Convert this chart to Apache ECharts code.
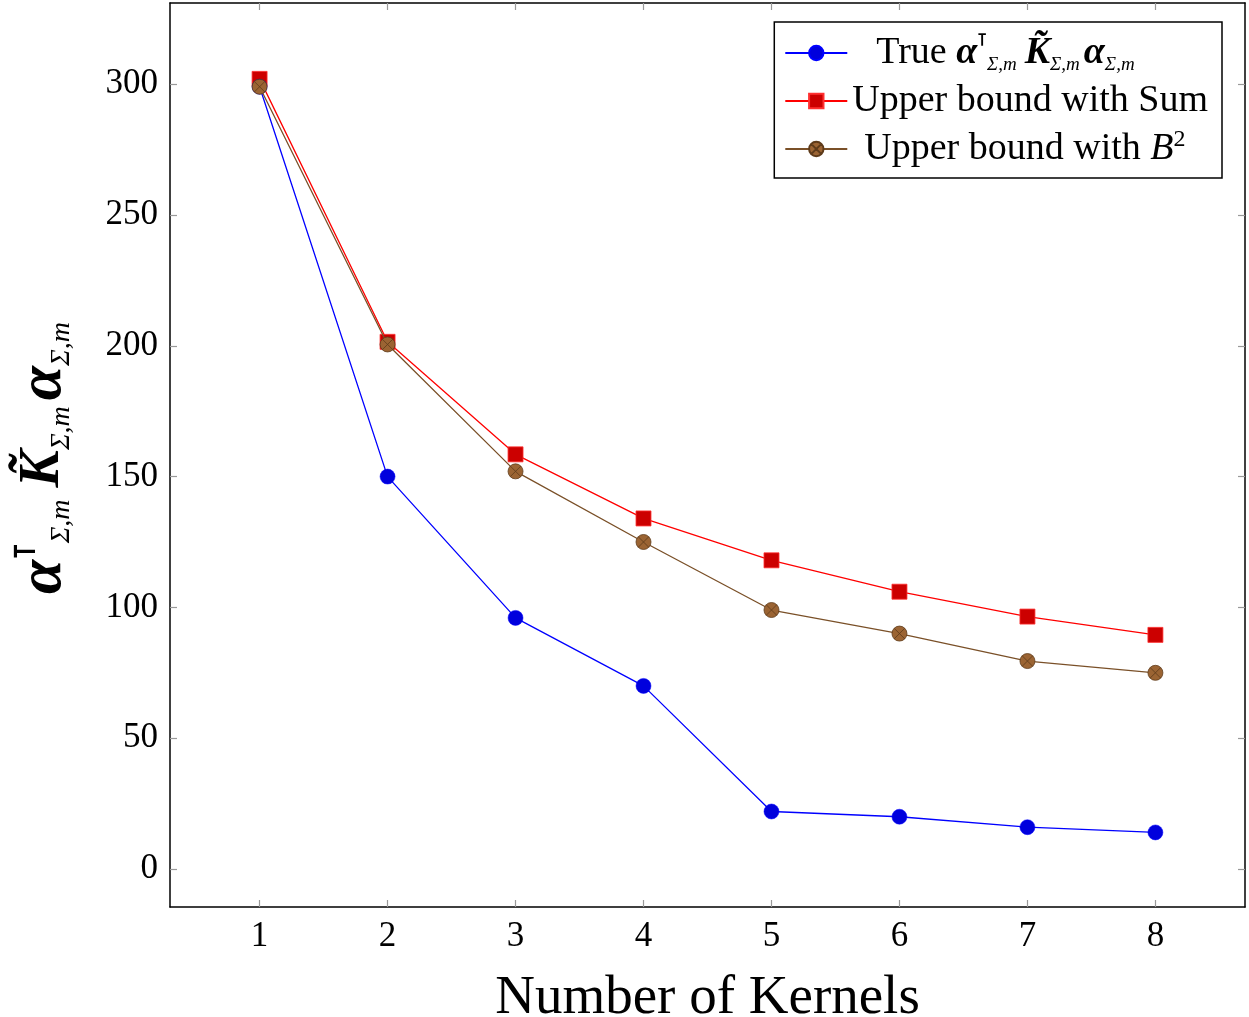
<!DOCTYPE html>
<html>
<head>
<meta charset="utf-8">
<script src="https://cdn.jsdelivr.net/npm/echarts@6/dist/echarts.min.js"></script>
<style>html,body{margin:0;padding:0;background:#fff;}#c{width:1249px;height:1017px;}</style>
</head>
<body>
<div id="c"></div>
<script>
const kernels = [1, 2, 3, 4, 5, 6, 7, 8];
const trueVals = [299, 150, 96, 70, 22, 20, 16, 14];
const sumBound = [302, 201.5, 158.5, 134, 118, 106, 96.5, 89.5];
const b2Bound = [299, 200.5, 152, 125, 99, 90, 79.5, 75];
const yTicks = [0, 50, 100, 150, 200, 250, 300];

const FONT = '"Liberation Serif", "DejaVu Serif", serif';
const otimes = 'path://M50,2 A48,48 0 1,1 49.99,2 Z M16,16 L84,84 M84,16 L16,84';

function pairs(v) { return kernels.map((k, i) => [k, v[i]]); }

const chart = echarts.init(document.getElementById('c'));
const tickStyle = { show: true, inside: true, length: 7, lineStyle: { color: '#999', width: 1.2 } };
const axLine = { show: true, onZero: false, lineStyle: { color: '#000', width: 1.5 } };

chart.setOption({
  animation: false,
  backgroundColor: '#fff',
  grid: { left: 170, right: 4, top: 3, bottom: 110, containLabel: false, outerBoundsMode: 'none' },
  xAxis: [{
    type: 'value', min: 0.3, max: 8.7,
    axisLine: axLine,
    axisTick: Object.assign({}, tickStyle, { customValues: kernels }),
    axisLabel: { customValues: kernels, fontFamily: FONT, fontSize: 35, color: '#000', margin: 12 },
    splitLine: { show: false },
    name: 'Number of Kernels', nameLocation: 'middle', nameGap: 64,
    nameTextStyle: { fontFamily: FONT, fontSize: 55, color: '#000' }
  }, {
    type: 'value', min: 0.3, max: 8.7, position: 'top',
    axisLine: axLine,
    axisTick: Object.assign({}, tickStyle, { customValues: kernels }),
    axisLabel: { show: false }, splitLine: { show: false }
  }],
  yAxis: [{
    type: 'value', min: -14.5, max: 331,
    axisLine: axLine,
    axisTick: Object.assign({}, tickStyle, { customValues: yTicks }),
    axisLabel: { customValues: yTicks, fontFamily: FONT, fontSize: 35, color: '#000', margin: 12 },
    splitLine: { show: false },
    name: '{a|α}{sup|⊺}{sub|Σ,m}{k|K̃}{sub|Σ,m}{a|α}{sub|Σ,m}',
    nameLocation: 'middle', nameGap: 94, nameRotate: 90,
    nameTextStyle: {
      color: '#000',
      rich: {
        a: { fontFamily: FONT, fontSize: 62, fontWeight: 'bold', fontStyle: 'italic', color: '#000', lineHeight: 64 },
        k: { fontFamily: FONT, fontSize: 56, fontWeight: 'bold', fontStyle: 'italic', color: '#000', lineHeight: 64, padding: [0, 0, 0, 6] },
        sup: { fontFamily: '"DejaVu Sans", sans-serif', fontSize: 30, fontWeight: 'bold', color: '#000', verticalAlign: 'top', lineHeight: 64 },
        sub: { fontFamily: FONT, fontSize: 28, fontStyle: 'italic', color: '#000', verticalAlign: 'bottom', lineHeight: 44, padding: [0, 6, 0, 0] }
      }
    }
  }, {
    type: 'value', min: -14.5, max: 331, position: 'right',
    axisLine: axLine,
    axisTick: Object.assign({}, tickStyle, { customValues: yTicks }),
    axisLabel: { show: false }, splitLine: { show: false }
  }],
  legend: {
    right: 27, top: 22, orient: 'vertical',
    backgroundColor: '#fff', borderColor: '#000', borderWidth: 1.5, borderRadius: 0,
    padding: [10, 14, 10, 10], itemGap: 8, itemWidth: 62, itemHeight: 18,
    data: ['t', 's', 'b'],
    formatter: function (n) {
      if (n === 't') return '{r1|True }{a|α}{sup|⊺}{sub|Σ,m}{k|K̃}{sub|Σ,m}{a|α}{sub|Σ,m}';
      if (n === 's') return '{r|Upper bound with Sum}';
      return '{r3|Upper bound with }{i|B}{sup2|2}';
    },
    textStyle: {
      color: '#000',
      rich: {
        r: { fontFamily: FONT, fontSize: 38, color: '#000', lineHeight: 42 },
        r1: { fontFamily: FONT, fontSize: 38, color: '#000', lineHeight: 42, padding: [0, 0, 0, 24] },
        r3: { fontFamily: FONT, fontSize: 38, color: '#000', lineHeight: 42, padding: [0, 0, 0, 12] },
        a: { fontFamily: FONT, fontSize: 38, fontWeight: 'bold', fontStyle: 'italic', color: '#000', lineHeight: 42 },
        k: { fontFamily: FONT, fontSize: 38, fontWeight: 'bold', fontStyle: 'italic', color: '#000', lineHeight: 42, padding: [0, 0, 0, 4] },
        i: { fontFamily: FONT, fontSize: 38, fontStyle: 'italic', color: '#000', lineHeight: 42 },
        sup: { fontFamily: '"DejaVu Sans", sans-serif', fontSize: 18, fontWeight: 'bold', color: '#000', verticalAlign: 'top', lineHeight: 42 },
        sup2: { fontFamily: FONT, fontSize: 24, color: '#000', verticalAlign: 'top', lineHeight: 38 },
        sub: { fontFamily: FONT, fontSize: 19, fontStyle: 'italic', color: '#000', verticalAlign: 'bottom', lineHeight: 32, padding: [0, 4, 0, 0] }
      }
    }
  },
  series: [{
    name: 't', type: 'line', data: pairs(trueVals),
    symbol: 'circle', symbolSize: 15,
    lineStyle: { color: '#0000ff', width: 1.3 },
    itemStyle: { color: '#0000dd', borderColor: '#0000ff', borderWidth: 0.5 },
    z: 3
  }, {
    name: 's', type: 'line', data: pairs(sumBound),
    symbol: 'rect', symbolSize: 15,
    lineStyle: { color: '#ff0000', width: 1.3 },
    itemStyle: { color: '#cc0000', borderColor: '#ff3030', borderWidth: 0.8 },
    z: 2
  }, {
    name: 'b', type: 'line', data: pairs(b2Bound),
    symbol: otimes, symbolSize: 15,
    lineStyle: { color: '#7a5028', width: 1.3 },
    itemStyle: { color: '#9b6433', borderColor: '#5e3b1a', borderWidth: 0.8 },
    z: 4
  }]
});
</script>
</body>
</html>
